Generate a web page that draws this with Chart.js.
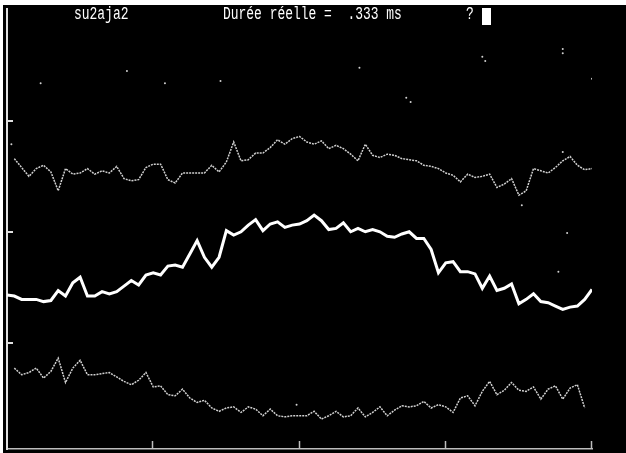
<!DOCTYPE html>
<html>
<head>
<meta charset="utf-8">
<script src="https://cdn.jsdelivr.net/npm/chart.js@4/dist/chart.umd.min.js"></script>
<style>
  html, body { margin: 0; padding: 0; background: #fff; }
  #wrap { position: relative; width: 626px; height: 453px; overflow: hidden; }
  #scope { position: absolute; left: 3px; top: 5px; background: #000; }
  .txt { position: absolute; top: 5px; color: #fff; font-family: "Liberation Mono", monospace;
         font-size: 18px; line-height: 18px; white-space: pre; transform: scaleX(0.72); transform-origin: left top; }
  #cursor { position: absolute; left: 482px; top: 8px; width: 9px; height: 17px; background: #fff; }
</style>
</head>
<body>
<div id="wrap">
  <canvas id="scope" width="623" height="448"></canvas>
  <div class="txt" style="left:74px">su2aja2</div>
  <div class="txt" style="left:223px">Durée réelle =  .333 ms</div>
  <div class="txt" style="left:466px">?</div>
  <div id="cursor"></div>
</div>
<script>
// échantillonnage horizontal (divisions)
const DX = 0.05;
const X_TICKS = [1, 2, 3, 4];
const Y_TICKS = [1, 2, 3];

// voie du haut
const TRACE_TOP = [null, 2.66, 2.58, 2.50, 2.57, 2.60, 2.54, 2.37, 2.57, 2.52, 2.53, 2.57, 2.52, 2.55, 2.53, 2.59, 2.48, 2.46, 2.47, 2.58,
  2.61, 2.61, 2.47, 2.44, 2.53, 2.53, 2.53, 2.53, 2.60, 2.54, 2.63, 2.81, 2.64, 2.65, 2.71, 2.71, 2.76, 2.83, 2.79, 2.84,
  2.86, 2.81, 2.79, 2.82, 2.75, 2.78, 2.75, 2.70, 2.64, 2.79, 2.69, 2.67, 2.70, 2.69, 2.66, 2.65, 2.64, 2.60, 2.59, 2.57,
  2.53, 2.51, 2.45, 2.52, 2.49, 2.50, 2.52, 2.40, 2.43, 2.48, 2.33, 2.37, 2.57, 2.55, 2.53, 2.58, 2.64, 2.68, 2.60, 2.56, 2.57];

// voie du milieu (trait épais)
const TRACE_MID = [1.43, 1.42, 1.39, 1.39, 1.39, 1.37, 1.38, 1.47, 1.42, 1.54, 1.59, 1.42, 1.42, 1.46, 1.44, 1.46, 1.51, 1.56, 1.52, 1.61,
  1.63, 1.61, 1.69, 1.70, 1.68, 1.80, 1.92, 1.77, 1.68, 1.77, 2.01, 1.97, 2.00, 2.06, 2.11, 2.01, 2.07, 2.09, 2.04, 2.06,
  2.07, 2.10, 2.15, 2.10, 2.02, 2.03, 2.08, 2.00, 2.03, 2.00, 2.02, 2.00, 1.96, 1.95, 1.98, 2.00, 1.94, 1.94, 1.84, 1.63,
  1.72, 1.73, 1.64, 1.64, 1.62, 1.49, 1.60, 1.47, 1.49, 1.53, 1.35, 1.39, 1.44, 1.37, 1.36, 1.33, 1.30, 1.32, 1.33, 1.39, 1.48];

// voie du bas
const TRACE_LOW = [null, 0.77, 0.71, 0.73, 0.77, 0.68, 0.74, 0.86, 0.64, 0.77, 0.84, 0.71, 0.71, 0.72, 0.73, 0.69, 0.65, 0.62, 0.66, 0.73,
  0.60, 0.61, 0.53, 0.52, 0.58, 0.50, 0.46, 0.48, 0.41, 0.38, 0.41, 0.42, 0.37, 0.42, 0.40, 0.34, 0.40, 0.34, 0.33, 0.34,
  0.34, 0.34, 0.38, 0.31, 0.34, 0.38, 0.33, 0.34, 0.41, 0.33, 0.37, 0.42, 0.34, 0.39, 0.43, 0.42, 0.43, 0.47, 0.41, 0.44,
  0.42, 0.37, 0.50, 0.52, 0.43, 0.56, 0.65, 0.53, 0.57, 0.64, 0.57, 0.56, 0.60, 0.49, 0.58, 0.61, 0.49, 0.59, 0.62, 0.41, null];

// points isolés
const NOISE_X = [0.03, 0.23, 0.82, 1.08, 1.46, 2.41, 2.73, 2.76, 3.25, 3.27, 3.80, 3.80, 4.00, 3.52, 3.80, 3.83, 3.77, 1.98];
const NOISE_Y = [2.79, 3.34, 3.45, 3.34, 3.36, 3.48, 3.21, 3.17, 3.58, 3.54, 3.65, 3.61, 3.38, 2.24, 2.72, 1.99, 1.64, 0.44];

const toPoints = arr => arr.map((v, i) => ({ x: i * DX, y: v }));

const tickPlugin = {
    id: 'scopeTicks',
    afterDraw(chart) {
        const ctx = chart.ctx;
        const xs = chart.scales.x, ys = chart.scales.y;
        const area = chart.chartArea;
        ctx.save();
        ctx.strokeStyle = '#bdbdbd';
        ctx.lineWidth = 1.5;
        X_TICKS.forEach(v => {
            const px = Math.round(xs.getPixelForValue(v)) - 0.5;
            ctx.beginPath();
            ctx.moveTo(px, area.bottom);
            ctx.lineTo(px, area.bottom - 8);
            ctx.stroke();
        });
        ctx.strokeStyle = '#e0e0e0';
        ctx.lineWidth = 2;
        Y_TICKS.forEach(v => {
            const py = Math.round(ys.getPixelForValue(v));
            ctx.beginPath();
            ctx.moveTo(area.left, py);
            ctx.lineTo(area.left + 6, py);
            ctx.stroke();
        });
        ctx.restore();
    }
};

new Chart(document.getElementById('scope'), {
    type: 'line',
    data: {
        datasets: [
            { data: toPoints(TRACE_TOP), borderColor: '#d0d0d0', borderWidth: 1.5, borderDash: [2, 1], pointRadius: 0, tension: 0, spanGaps: false },
            { data: toPoints(TRACE_MID), borderColor: '#ffffff', borderWidth: 3, pointRadius: 0, tension: 0, spanGaps: false },
            { data: toPoints(TRACE_LOW), borderColor: '#d0d0d0', borderWidth: 1.5, borderDash: [2, 1], pointRadius: 0, tension: 0, spanGaps: false },
            { type: 'scatter', data: NOISE_X.map((x, i) => ({ x: x, y: NOISE_Y[i] })), pointRadius: 1, pointBackgroundColor: '#d0d0d0', pointBorderWidth: 0, showLine: false }
        ]
    },
    options: {
        responsive: false,
        devicePixelRatio: 1,
        animation: false,
        layout: { padding: { left: 1.5, right: 34, top: 0, bottom: 1.5 } },
        plugins: { legend: { display: false }, tooltip: { enabled: false } },
        scales: {
            x: {
                type: 'linear', min: 0, max: 4,
                grid: { display: false },
                ticks: { display: false },
                border: { display: true, color: '#bdbdbd', width: 1.5 },
                afterFit(scale) { scale.height = 0; }
            },
            y: {
                type: 'linear', min: 0.04, max: 4.01,
                grid: { display: false },
                ticks: { display: false },
                border: { display: true, color: '#e0e0e0', width: 2 },
                afterFit(scale) { scale.width = 0; }
            }
        }
    },
    plugins: [tickPlugin]
});
</script>
</body>
</html>
